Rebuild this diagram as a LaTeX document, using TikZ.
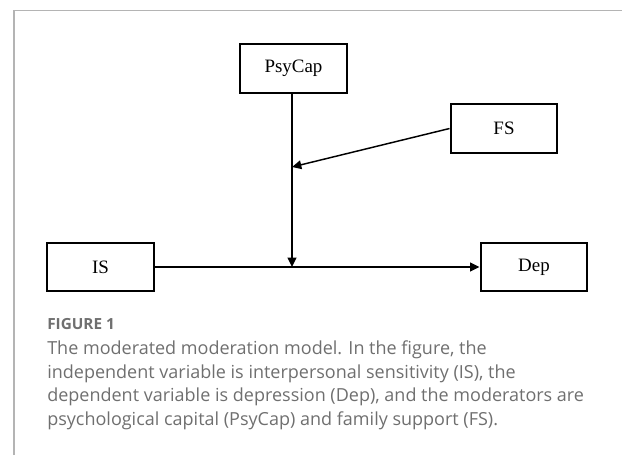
\documentclass[tikz,border=0pt]{standalone}
\usepackage{fontspec}
\setmainfont{Liberation Serif}
\newfontfamily\capfont{Open Sans}
\usetikzlibrary{positioning,arrows.meta}
\definecolor{framegray}{HTML}{B4B4B4}
\definecolor{capgray}{HTML}{6F6F6F}

\begin{document}
\begin{tikzpicture}[x=0.75pt, y=-0.75pt,
  var/.style={draw, line width=1.5pt, minimum width=80.2pt, minimum height=36.7pt, inner sep=0pt, font=\fontsize{14.2}{16}\selectfont},
  arr/.style={-{Triangle[length=7pt, width=6.5pt]}, line width=1.1pt},
  captext/.style={text=capgray, anchor=base west, inner sep=0pt}]
\useasboundingbox (0,0) rectangle (622,455);
\draw[framegray, line width=1.2pt] (14,455) -- (14,10.5) -- (622,10.5);
% variables
\node[var] (psycap) at (293.5,68.5) {PsyCap};
\node[var] (fs) at (504,128.5) {FS};
\node[var] (is) at (100.5,267) {IS};
\node[var] (dep) at (534,267) {Dep};
\coordinate (m1) at (292,167);
\coordinate (m2) at (292,267);
% paths
\draw[arr] (is) -- (dep);
\draw[arr] (psycap.south -| m2) -- (m2);
\draw[arr] (fs.west) -- (m1);
% caption
\node[captext, font=\capfont\bfseries\fontsize{11.5}{14}\selectfont] (fig) at (47,329) {FIGURE 1};
\node[captext, align=left, font=\capfont\fontsize{13.5}{17.6}\selectfont] (caption) at (47,425)
  {The moderated moderation model. In the figure, the\\independent variable is interpersonal sensitivity (IS), the\\dependent variable is depression (Dep), and the moderators are\\psychological capital (PsyCap) and family support (FS).};
\end{tikzpicture}
\end{document}
